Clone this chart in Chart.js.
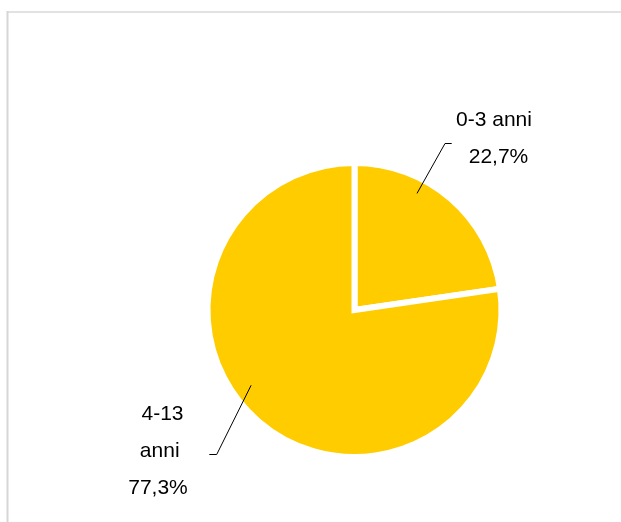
<!DOCTYPE html>
<html>
<head>
<meta charset="utf-8">
<script src="https://cdn.jsdelivr.net/npm/chart.js@4/dist/chart.umd.min.js"></script>
<style>
  html, body { margin: 0; padding: 0; background: #fff; }
  #wrap { width: 621px; height: 522px; position: relative; }
</style>
</head>
<body>
<div id="wrap"><canvas id="grafico_torta" width="621" height="522"></canvas></div>
<script>
// dati
const categorie = ['0-3 anni', '4-13 anni'];
const valori = [22.7, 77.3];
const righeEtichetta = [['0-3 anni'], ['4-13', 'anni']];
const colore = '#FFCC00';

const formatta = (v) => v.toFixed(1).replace('.', ',') + '%';

// posizioni delle etichette rispetto al centro della torta
const posEtichette = [
  { punto: [0.345, 0.90], gomito: [90.5, -167], coda: 6.7, testo: [[139.5, -184], [144, -147]] },
  { punto: [0.547, 0.87], gomito: [-137.8, 144.3], coda: -7.4, testo: [[-192, 110], [-194.8, 147], [-196.5, 184]] }
];

const cornice = {
  id: 'cornice',
  beforeDraw(chart) {
    const ctx = chart.ctx;
    ctx.save();
    ctx.lineWidth = 2;
    ctx.strokeStyle = '#e2e2e2';
    ctx.beginPath();
    ctx.moveTo(7, 12);
    ctx.lineTo(chart.width + 2, 12);
    ctx.stroke();
    ctx.strokeStyle = '#d6d6d6';
    ctx.beginPath();
    ctx.moveTo(7.5, 11);
    ctx.lineTo(7.5, chart.height + 2);
    ctx.stroke();
    ctx.restore();
  }
};

const etichette = {
  id: 'etichette',
  afterDraw(chart) {
    const ctx = chart.ctx;
    const meta = chart.getDatasetMeta(0);
    ctx.save();
    meta.data.forEach((arc, i) => {
      const p = posEtichette[i];
      const cx = arc.x, cy = arc.y;
      const a = arc.startAngle + (arc.endAngle - arc.startAngle) * p.punto[0];
      const r = arc.outerRadius * p.punto[1];
      const px = cx + Math.cos(a) * r;
      const py = cy + Math.sin(a) * r;
      const gx = cx + p.gomito[0];
      const gy = Math.round(cy + p.gomito[1]) + 0.5;
      ctx.strokeStyle = '#000';
      ctx.lineWidth = 1;
      ctx.beginPath();
      ctx.moveTo(px, py);
      ctx.lineTo(gx, gy);
      ctx.lineTo(gx + p.coda, gy);
      ctx.stroke();

      const righe = righeEtichetta[i].concat([formatta(valori[i])]);
      ctx.fillStyle = '#000';
      ctx.font = '21px "Liberation Sans", Arial, sans-serif';
      ctx.textAlign = 'center';
      ctx.textBaseline = 'alphabetic';
      righe.forEach((t, j) => {
        ctx.fillText(t, cx + p.testo[j][0], cy + p.testo[j][1]);
      });
    });
    ctx.restore();
  }
};

const ctx = document.getElementById('grafico_torta');
new Chart(ctx, {
  type: 'pie',
  data: {
    labels: categorie,
    datasets: [{
      data: valori,
      backgroundColor: [colore, colore],
      borderColor: '#ffffff',
      borderWidth: 6,
      borderJoinStyle: 'miter',
      hoverOffset: 0,
      radius: 147
    }]
  },
  options: {
    responsive: false,
    animation: false,
    events: [],
    layout: { padding: { left: 101, right: 13, top: 112, bottom: 14 } },
    plugins: {
      legend: { display: false },
      tooltip: { enabled: false }
    }
  },
  plugins: [cornice, etichette]
});
</script>
</body>
</html>
